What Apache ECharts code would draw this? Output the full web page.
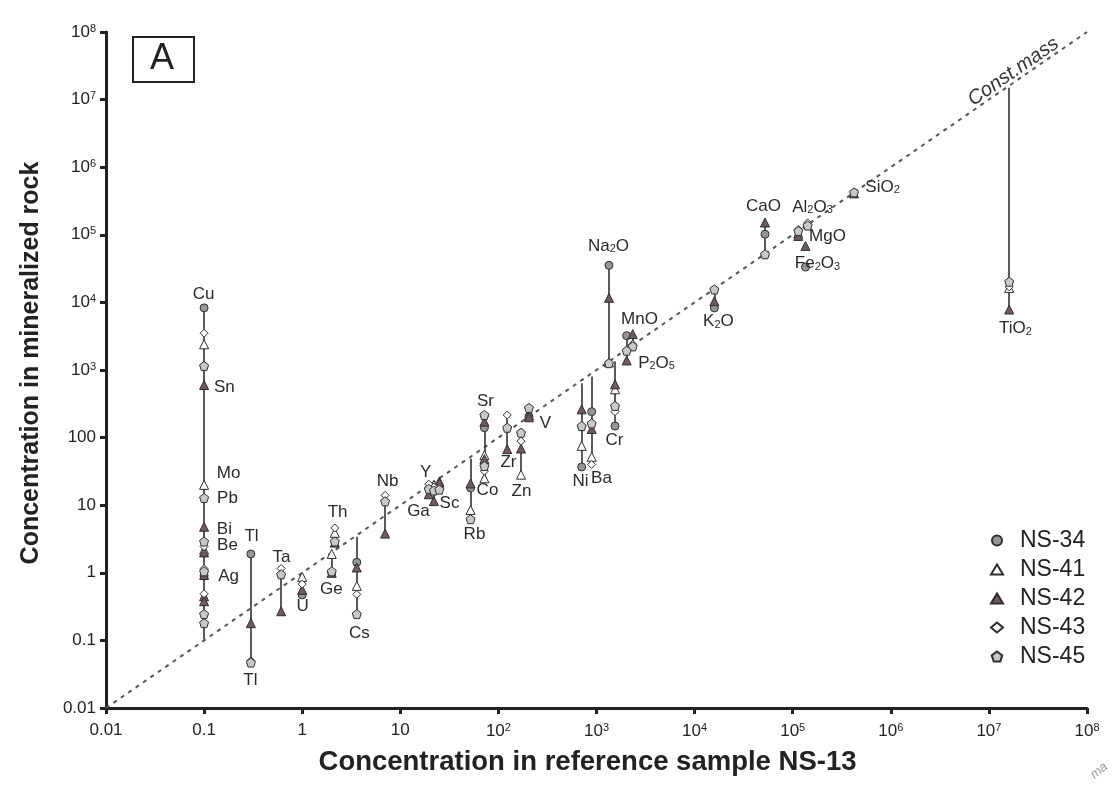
<!DOCTYPE html>
<html>
<head>
<meta charset="utf-8">
<script src="https://cdn.jsdelivr.net/npm/echarts@6/dist/echarts.min.js"></script>
<style>
  html, body { margin: 0; padding: 0; background: #fff; }
  #chart { width: 1112px; height: 787px; }
</style>
</head>
<body>
<div id="chart"></div>
<script>
// Elements and their concentration in the reference sample NS-13
const elements = ['Cu','Sn','Mo','Pb','Bi','Be','Ag','Tl','Ta','U','Th','Ge','Cs','Nb','Y','Ga','Sc','Rb','Co','Sr','Zr','Zn','V','Ni','Ba','Cr','Na2O','MnO','P2O5','K2O','CaO','MgO','Fe2O3','Al2O3','SiO2','TiO2'];
const reference = [0.1,0.1,0.1,0.1,0.1,0.1,0.1,0.3,0.61,1.0,2.15,2.0,3.6,7.0,19.5,22,25,52,72,72,123,170,205,706,893,1545,1340,2340,2030,15900,52200,114000,135000,142000,422000,1.61e7];

// Concentrations in the mineralized samples (null = not plotted)
const ns34 = [8300,null,null,null,null,null,0.9,1.9,null,0.47,null,1.0,1.43,null,null,16.5,null,18,null,140,null,null,205,36.8,242,148,35300,null,3220,8290,102000,null,33300,null,null,null];
const ns41 = [2400,null,20,null,null,2.2,null,null,null,0.87,3.9,1.9,0.64,null,null,20,22.5,8.5,25,55,null,28.3,215,75.5,52,519,1300,null,null,null,null,105000,null,null,null,16400];
const ns42 = [null,600,0.45,0.38,4.8,2.0,0.93,0.18,0.27,0.56,2.8,1.0,1.2,3.8,14.5,11.5,21.5,21,48,172,67.5,69,200,262,134,615,11700,3400,1385,10400,152000,96400,68400,null,410000,7840];
const ns43 = [3500,null,0.49,null,null,2.45,1.15,0.05,1.16,0.68,4.6,null,0.48,14,20.5,18.5,null,null,32,205,216,88.5,null,null,40,242,1280,2400,null,null,50000,120000,null,150000,430000,17000];
const ns45 = [1150,0.18,null,12.8,0.245,2.9,1.05,0.047,0.95,null,2.9,1.05,0.245,11.4,17.5,16.5,17,6.2,38,216,140,118,275,148,162,294,1262,2235,1930,15550,51500,114000,null,137000,424000,20200];

// Whether an element's samples are joined by a vertical line, and line ends beyond the markers
const joined   = [1,1,1,1,1,1,1,1,1,1,1,1,1,1,1,1,1,1,1,1,1,1,1,1,1,1,1,1,1,1,1,0,0,0,1,1];
const lineFrom = [null,null,null,null,null,null,0.104,null,null,null,null,null,null,null,null,null,null,null,null,null,null,null,null,null,null,null,null,null,null,null,null,null,null,null,null,null];
const lineTo   = [null,null,null,null,null,null,null,null,null,null,null,null,3.4,null,null,null,null,49,null,null,null,null,null,637,800,1337,null,null,null,null,null,null,null,null,null,1.5e7];

const sampleNames = ['NS-34','NS-41','NS-42','NS-43','NS-45'];

// Element annotations: text and anchor (reference value, sample value)
const labelText = ['Cu','Sn','Mo','Pb','Bi','Be','Ag','Tl','Tl','Ta','U','Th','Ge','Cs','Nb','Y','Ga','Sc','Rb','Co','Sr','Zr','Zn','V','Ni','Ba','Cr','Na{s|2}O','MnO','P{s|2}O{s|5}','K{s|2}O','CaO','Al{s|2}O{s|3}','MgO','Fe{s|2}O{s|3}','SiO{s|2}','TiO{s|2}'];
const labelX = [0.1,0.163,0.18,0.175,0.163,0.175,0.18,0.308,0.30,0.622,1.02,2.32,2.01,3.88,7.5,18.3,15.5,32.1,57.7,78.3,74.8,128,174,305,695,1138,1545,1340,2775,4140,17700,51000,161000,229000,181000,834000,1.89e7];
const labelY = [12800,550,29,12.3,4.27,2.47,0.885,3.36,0.0252,1.69,0.317,7.64,0.566,0.126,22,30,7.89,10.4,3.6,16.2,340,42.3,15.7,160,22,24.4,89.6,66100,5620,1250,5080,260000,251000,93100,37000,498000,4000];

// Constant-mass reference line (y = x) and where its caption sits
const constMassEnds = [0.01, 1e8];
const constMassCaption = [1.8e7, 2.55e7];

const lg = Math.log10;
const samples = [ns34, ns41, ns42, ns43, ns45];

const pentagon = 'path://M0,-10 L9.51,-3.09 L5.88,8.09 L-5.88,8.09 L-9.51,-3.09 Z';
const markerStyles = [
  { symbol: 'circle',   size: 8, color: '#969696' },
  { symbol: 'triangle', size: 9, color: '#ffffff' },
  { symbol: 'triangle', size: 9, color: '#6f5a63' },
  { symbol: 'diamond',  size: 8, color: '#ffffff' },
  { symbol: pentagon,   size: 9, color: '#c8c8c8' }
];

// Vertical connectors: one per reference column, spanning all joined values
const columns = new Map();
elements.forEach((el, i) => {
  if (!joined[i]) return;
  const vals = samples.map(s => s[i]).filter(v => v != null);
  if (lineFrom[i] != null) vals.push(lineFrom[i]);
  if (lineTo[i] != null) vals.push(lineTo[i]);
  if (!vals.length) return;
  const c = columns.get(reference[i]) || { lo: Infinity, hi: -Infinity };
  c.lo = Math.min(c.lo, ...vals);
  c.hi = Math.max(c.hi, ...vals);
  columns.set(reference[i], c);
});
const connectorData = [];
columns.forEach((c, ref) => {
  if (c.hi > c.lo) connectorData.push({ coords: [[lg(ref), lg(c.lo)], [lg(ref), lg(c.hi)]] });
});

const font = 'Liberation Sans, Arial, sans-serif';

function tickLabel(v, plainUpTo) {
  const e = Math.round(v);
  if (e < 0) return e === -2 ? '0.01' : '0.1';
  if (e <= plainUpTo) return String(Math.pow(10, e));
  return '10{p|' + e + '}';
}
const supRich = { p: { fontSize: 11, verticalAlign: 'top', padding: [0, 0, 7, 0], fontFamily: font, color: '#222' } };

const scatterSeries = sampleNames.map((name, k) => ({
  name: name,
  type: 'scatter',
  symbol: markerStyles[k].symbol,
  symbolSize: markerStyles[k].size,
  itemStyle: { color: markerStyles[k].color, borderColor: '#2e2e2e', borderWidth: 1, opacity: 1 },
  z: 3,
  data: elements.map((el, i) => samples[k][i] == null ? null : [lg(reference[i]), lg(samples[k][i])]).filter(d => d)
}));

const option = {
  animation: false,
  textStyle: { fontFamily: font },
  grid: { left: 106, right: 25, top: 32, bottom: 79 },
  xAxis: {
    type: 'value', min: -2, max: 8, interval: 1,
    name: 'Concentration in reference sample NS-13',
    nameLocation: 'middle', nameGap: 40,
    nameTextStyle: { fontSize: 27.5, fontWeight: 'bold', color: '#222', fontFamily: font, padding: [0, 18, 0, 0] },
    axisLine: { onZero: false, lineStyle: { color: '#222', width: 3 } },
    axisTick: { length: 6, lineStyle: { color: '#222', width: 3 } },
    splitLine: { show: false },
    axisLabel: { fontSize: 17, color: '#222', margin: 14, formatter: v => tickLabel(v, 1), rich: supRich }
  },
  yAxis: {
    type: 'value', min: -2, max: 8, interval: 1,
    name: 'Concentration in mineralized rock',
    nameLocation: 'middle', nameGap: 62,
    nameTextStyle: { fontSize: 25, fontWeight: 'bold', color: '#222', fontFamily: font, padding: [0, 0, 0, 14] },
    axisLine: { onZero: false, lineStyle: { color: '#222', width: 3 } },
    axisTick: { length: 6, lineStyle: { color: '#222', width: 3 } },
    splitLine: { show: false },
    axisLabel: { fontSize: 17, color: '#222', margin: 10, formatter: v => tickLabel(v, 2), rich: supRich }
  },
  legend: {
    orient: 'vertical', left: 985, top: 524,
    itemWidth: 12, itemHeight: 10, itemGap: 6,
    textStyle: { fontSize: 23, color: '#222', fontFamily: font, padding: [0, 0, 0, 12] },
    data: sampleNames
  },
  graphic: [
    { type: 'rect', left: 132, top: 36, shape: { width: 61, height: 45 }, style: { fill: '#fff', stroke: '#222', lineWidth: 2 }, z: 10 },
    { type: 'text', left: 150, top: 41, style: { text: 'A', fontSize: 36, fill: '#222', fontFamily: font }, z: 11 },
    { type: 'text', left: 1088, top: 760, rotation: 0.7, style: { text: 'ma', fontSize: 13, fill: '#999', fontFamily: font, fontStyle: 'italic' } }
  ],
  series: [
    {
      name: 'Const.mass', type: 'lines', coordinateSystem: 'cartesian2d', silent: true, z: 1,
      lineStyle: { color: '#555', width: 2, type: [4, 5], opacity: 1 },
      data: [{ coords: constMassEnds.map(v => [lg(v), lg(v)]) }]
    },
    {
      name: 'Const.mass caption', type: 'scatter', silent: true, z: 4, symbolSize: 1,
      itemStyle: { color: 'rgba(0,0,0,0)', opacity: 1 },
      label: {
        show: true, position: [0, 0], align: 'center', verticalAlign: 'middle', rotate: 34.6,
        formatter: 'Const.mass', fontSize: 20, fontStyle: 'italic', color: '#333', fontFamily: font
      },
      data: [[lg(constMassCaption[0]), lg(constMassCaption[1])]]
    },
    {
      name: 'connectors', type: 'lines', coordinateSystem: 'cartesian2d', silent: true, z: 2,
      lineStyle: { color: '#333', width: 1.6, opacity: 1 },
      data: connectorData
    },
    ...scatterSeries,
    {
      name: 'labels', type: 'scatter', silent: true, z: 4, symbolSize: 1,
      itemStyle: { color: 'rgba(0,0,0,0)', opacity: 1 },
      label: {
        show: true, position: [0, 0], align: 'center', verticalAlign: 'middle',
        fontSize: 17, color: '#2a2a2a', fontFamily: font,
        formatter: p => labelText[p.dataIndex],
        rich: { s: { fontSize: 11, color: '#2a2a2a', verticalAlign: 'bottom', fontFamily: font } }
      },
      data: labelText.map((t, i) => [lg(labelX[i]), lg(labelY[i])])
    }
  ]
};

const chart = echarts.init(document.getElementById('chart'), null, { renderer: 'canvas' });
chart.setOption(option);
</script>
</body>
</html>
